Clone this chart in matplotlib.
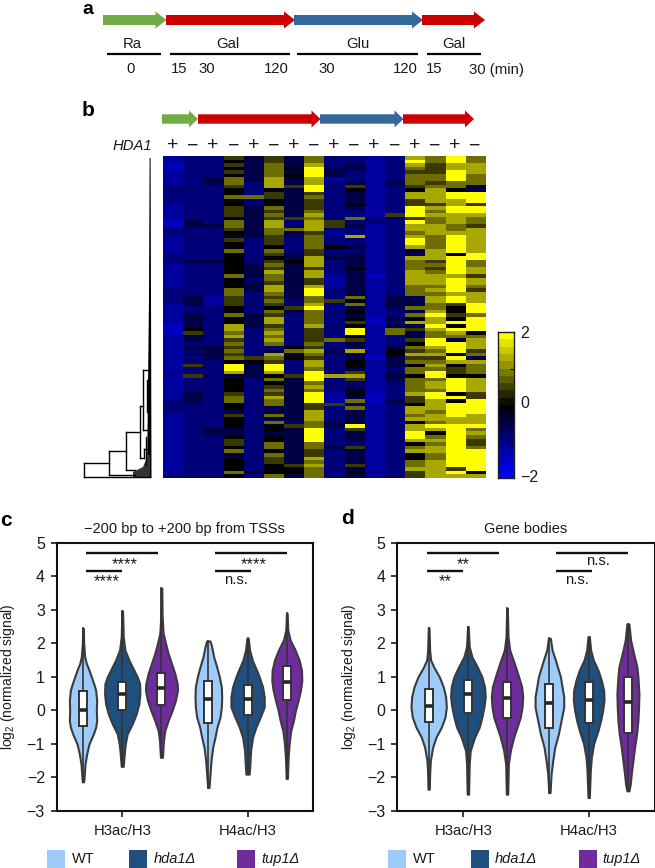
import numpy as np
import matplotlib
matplotlib.use('Agg')
import matplotlib.pyplot as plt
from matplotlib.colors import LinearSegmentedColormap
from matplotlib.patches import Polygon, Rectangle

plt.rcParams['font.family'] = ['Liberation Sans', 'DejaVu Sans']
plt.rcParams['mathtext.default'] = 'regular'
W, H = 655, 868

# ---------- heatmap levels (0 strongest blue, 4 black, 8 bright yellow), three vertical blocks
HEAT_TOP = [
 "110011112222211111002211111222", "222222222222222222332222222223", "222222332222222222232222222223",
 "545454665446445554665435446444", "333333322226223333333332222222", "556666777455446565776655546545",
 "333434335333333335226322222334", "667888778856555676777566665577", "222333122222222222552122242232",
 "223322235433343226232272232333", "111111111111111112211111111111", "222222232222222252222222222222",
 "787656665477558885877678873376", "665556656777757676677766667775", "887788866488778877766788888488",
 "667776663388858876657777777886"]
HEAT_MID = [
 "111111122221111110001111111111", "222222222333223333453323232252", "222222222111222222222223333222",
 "444644466555446447767565656488", "333323332222223333222222225433", "657665776565465775676762376588",
 "333333333322532222222224634222", "757755788667866667555565765776", "222111122252222222222622322222",
 "343333333646343454883533733443", "111011111111111001111111110111", "222222222333322323662223443332",
 "667777666333636473533546575646", "656777676776678778766887675676", "888788887885445484876388848745",
 "677577657778886888846777563766"]
HEAT_LOW = [
 "211111112222111111111111111112", "252222333222222222222222222222", "222222222222222233222222222222",
 "734444566443544433455463444464", "332222222222222222222222222232", "746456576633636443446646554446",
 "253333333333332533333333335443", "888676888557776688886655767666", "272222111522223322222322222222",
 "575233436263333853332533335343", "111111000111111111111111111111", "333222223222222222222222222222",
 "646666755477674778874674466755", "886776887776776874676776677777", "548888484888877888888888888587",
 "647777558888777867655688888847"]
LEVEL_VALUES = [-1.5, -1.25, -0.95, -0.55, 0.0, 0.45, 0.85, 1.3, 2.0]
HDA1_SIGNS = ['+', '\u2212'] * 8

# ---------- violins: (levels, density) pairs, box stats (q3, q1, median)
C_LEVELS = [
 [2.45,2.0,1.6,1.4,1.2,1.0,0.8,0.6,0.3,0,-0.3,-0.5,-0.7,-1,-1.3,-1.6,-1.9,-2.13],
 [2.97,2.2,1.8,1.5,1.2,1.0,0.8,0.5,0.2,-0.1,-0.4,-0.7,-1,-1.3,-1.67],
 [3.65,2.8,2.3,2.0,1.7,1.4,1.1,0.8,0.6,0.3,0,-0.3,-0.6,-0.9,-1.4],
 [2.07,1.9,1.6,1.3,1.0,0.7,0.4,0.1,-0.2,-0.5,-0.8,-1.1,-1.5,-1.9,-2.3],
 [2.15,1.8,1.5,1.2,1,0.7,0.4,0.1,-0.2,-0.5,-0.8,-1.2,-1.6,-1.9],
 [2.9,2.4,2.1,1.8,1.5,1.2,0.9,0.6,0.3,0,-0.3,-0.6,-1,-1.4,-2.03]]
C_DENS = [
 [1,2,5,10,18,25,32,38,41,40,41,38,31,18,11,6,4,2],
 [1,3,8,20,35,45,52,53,50,42,30,15,9,6,3],
 [1,2,5,12,20,30,40,47,48,42,32,20,10,6,3],
 [5,10,16,25,33,39,40,39,35,26,20,13,8,5,2],
 [2,6,14,27,35,45,50,50,38,25,15,9,7,5],
 [1,3,10,25,37,44,45,41,34,26,20,12,7,4,2]]
C_BOX = [(0.58,-0.48,0.02),(0.85,0,0.48),(1.12,0.15,0.67),(0.87,-0.38,0.34),(0.76,-0.15,0.35),(1.33,0.3,0.85)]
D_LEVELS = [
 [2.47,1.8,1.5,1.3,1.0,0.7,0.4,0.1,-0.2,-0.5,-0.8,-1.1,-1.5,-1.9,-2.35],
 [2.5,1.9,1.6,1.3,1,0.7,0.4,0.1,-0.2,-0.5,-0.8,-1.2,-1.6,-2.5],
 [3.05,2.2,1.8,1.4,1,0.7,0.4,0.1,-0.2,-0.5,-0.8,-1.2,-1.6,-2.5],
 [2.15,1.8,1.5,1.2,1,0.7,0.4,0.1,-0.3,-0.7,-1.1,-1.5,-1.9,-2.45],
 [2.2,1.8,1.5,1.2,0.9,0.6,0.3,0,-0.3,-0.6,-1,-1.4,-1.8,-2.6],
 [2.58,2.1,1.7,1.3,1.0,0.5,0.1,-0.3,-0.7,-1.1,-1.5,-1.9,-2.2,-2.4]]
D_DENS = [
 [1,3,6,15,32,44,51,53,49,38,22,12,5,3,2],
 [1,4,12,28,42,50,52,48,42,34,20,7,4,2],
 [1,3,8,22,35,44,47,45,40,30,20,10,4,2],
 [3,8,18,27,33,38,43,43,35,27,16,10,5,2],
 [2,6,14,28,38,45,46,42,36,28,15,8,5,2],
 [3,8,17,27,30,33,32,30,26,20,15,10,7,3]]
D_BOX = [(0.63,-0.35,0.13),(0.9,-0.07,0.5),(0.85,-0.22,0.38),(0.8,-0.53,0.23),(0.85,-0.38,0.3),(1.0,-0.68,0.25)]
GROUPS = ['H3ac/H3', 'H4ac/H3']
STRAINS = ['WT', 'hda1\u0394', 'tup1\u0394']
STRAIN_COLORS = ['#9DCBFA', '#1E4F7E', '#6F2C9C']

fig = plt.figure(figsize=(W/100, H/100), dpi=100)
ov = fig.add_axes([0, 0, 1, 1], zorder=0)
ov.set_xlim(0, W); ov.set_ylim(H, 0); ov.axis('off')

def add_axes_px(l, t, r, b, **kw):
    return fig.add_axes([l/W, 1-b/H, (r-l)/W, (b-t)/H], **kw)

GREEN, RED, BLUE = '#70AD47', '#CC0000', '#34679A'
def arrow(x0, x1, y, col, sh=5, hd=8.5, hl=11):
    ov.add_patch(Polygon([(x0,y-sh),(x1-hl,y-sh),(x1-hl,y-hd),(x1,y),(x1-hl,y+hd),(x1-hl,y+sh),(x0,y+sh)],
                         closed=True, fc=col, ec='none'))
FS = 10.7
def T(x, y, s, ha='center', size=FS, **kw):
    ov.text(x, y, s, ha=ha, va='center', fontsize=size, color=kw.pop('color', '#1a1a1a'), **kw)

# panel a
for x0, x1, c in [(103,166.5,GREEN),(166,295,RED),(294,423,BLUE),(422,485,RED)]:
    arrow(x0, x1, 20, c)
for x, s in [(132,'Ra'),(228,'Gal'),(358,'Glu'),(454,'Gal')]:
    T(x, 44, s)
for x0, x1 in [(107,161),(170,290),(297,418),(427,481)]:
    ov.plot([x0,x1],[54,54],color='k',lw=1.6,solid_capstyle='butt')
for x, s in [(131,'0'),(179,'15'),(207,'30'),(276,'120'),(327,'30'),(405,'120'),(434,'15')]:
    T(x, 69, s)
T(469, 70, '30 (min)', ha='left')
T(88, 9, 'a', size=14, fontweight='bold', color='k')
T(88, 111, 'b', size=15, fontweight='bold', color='k')
T(6, 520, 'c', size=15, fontweight='bold', color='k')
T(347, 518, 'd', size=15, fontweight='bold', color='k')

# panel b arrows and signs
for x0, x1, c in [(162,198,GREEN),(198,320.5,RED),(320,403.5,BLUE),(403,474,RED)]:
    arrow(x0, x1, 119, c, sh=4.7, hd=8.5, hl=9)
T(152, 146, 'HDA1', ha='right', style='italic')
L, R, TOP, BOT = 162.7, 485, 156, 478
cw = (R-L)/16
for i, s in enumerate(HDA1_SIGNS):
    T(L+cw*(i+.5), 146, s, size=14)

# heatmap
def fit(s, n=30):
    return s.ljust(n, s[-1])[:n]
levels = np.array([[int(c) for c in fit(a)+fit(b)+fit(d)]
                   for a, b, d in zip(HEAT_TOP, HEAT_MID, HEAT_LOW)]).T
values = np.array(LEVEL_VALUES)[levels]
colors = [(0,0,1),(0,0,0),(1,1,0)]
cmap = LinearSegmentedColormap.from_list('by', colors, N=256)
ax = add_axes_px(L, TOP, R, BOT)
ax.imshow(values, cmap=cmap, vmin=-2, vmax=2, aspect='auto', interpolation='nearest')
ax.axis('off')

# colour bar
cb = add_axes_px(497.5, 332, 513.5, 478)
steps = np.linspace(-2, 2, 21)
cb.pcolormesh([0,1], steps, (steps[:-1]+np.diff(steps)/2)[:,None],
              cmap=LinearSegmentedColormap.from_list('by20', colors, N=20), vmin=-2, vmax=2)
cb.set_xticks([])
cb.yaxis.tick_right()
cb.set_yticks([-2,-1,0,1,2])
cb.set_yticklabels([])
cb.tick_params(axis='y', direction='in', length=3, width=0.8, color='k')
for s in cb.spines.values():
    s.set_linewidth(1.0); s.set_color('#202020')
for y, s in [(334,'2'),(404,'0'),(477,'\u22122')]:
    T(520, y, s, ha='left', size=11.5)

# dendrogram
DEND = [((83.5,477),(83.5,463)),((83.5,463),(108.7,463)),((83.5,477),(150,477)),
        ((108.7,451),(108.7,475)),((108.7,451),(125.5,451)),((108.7,475),(135,475)),
        ((125.5,431.7),(125.5,470)),((125.5,431.7),(139.5,431.7)),((125.5,470),(135,470)),
        ((139.5,405.7),(139.5,458)),((139.5,405.7),(143,405.7)),((139.5,458),(144,458)),
        ((142.7,370),(142.7,430)),((142.7,370),(148,370)),((142.7,430),(147,430)),
        ((144,458),(144,449)),((144,449),(148,449)),((146,437),(146,465)),((147,380),(147,412))]
for (x0,y0),(x1,y1) in DEND:
    ov.plot([x0,x1],[y0,y1],color='k',lw=1.0,solid_capstyle='projecting')
ov.add_patch(Polygon([(149.6,158),(150.6,158),(151,300),(151.5,478),(147,478),(148.3,360),(149,300)],
                     closed=True, fc='k', ec='none'))
ov.add_patch(Polygon([(133,472),(143,467),(148,455),(150,455),(150,477),(133,477)],
                     closed=True, fc='#333333', ec='none'))

# violins
UNIT = 125.3
POS_C = [-0.313, 0, 0.313, 0.687, 1.0, 1.313]
POS_D = [-0.276, 0.037, 0.349, 0.687, 1.0, 1.313]
SC = 1/(3*UNIT)
def violin_panel(box_px, xlim, pos, lev, dens, box, title, ann):
    a = add_axes_px(*box_px)
    a.set_xlim(*xlim); a.set_ylim(-3, 5)
    for i in range(6):
        c = STRAIN_COLORS[i % 3]
        y = np.array(lev[i]); w = np.array(dens[i])*SC
        a.fill_betweenx(y, pos[i]-w, pos[i]+w, fc=c, ec='#3b3b3b', lw=1.5, zorder=2)
        a.plot([pos[i]]*2, [y[0], y[-1]], color='#333333', lw=1.2, zorder=3)
        q3, q1, m = box[i]
        a.add_patch(Rectangle((pos[i]-0.032, q1), 0.064, q3-q1, fc='white', ec='#333333', lw=1.4, zorder=4))
        a.plot([pos[i]-0.032, pos[i]+0.032], [m, m], color='#262626', lw=2.6, solid_capstyle='butt', zorder=5)
    for x0, x1, yy, tx, ty, s in ann:
        a.plot([x0,x1],[yy,yy],color='#111111',lw=1.7,solid_capstyle='butt')
        a.text(tx, ty, s, ha='center', va='center', fontsize=12 if '*' in s else FS, color='#1a1a1a')
    a.set_xticks([0,1]); a.set_xticklabels(GROUPS, fontsize=FS)
    a.set_yticks(range(-3,6))
    a.set_yticklabels([str(v).replace('-', '\u2212') for v in range(-3,6)], fontsize=11.5)
    a.tick_params(length=4.5, width=1.2, pad=4, colors='#1a1a1a')
    a.tick_params(axis='x', pad=5)
    for s in a.spines.values():
        s.set_linewidth(1.5); s.set_color('#111111')
    a.set_ylabel('log$_2$ (normalized signal)', fontsize=10, color='#1a1a1a')
    a.yaxis.set_label_coords(-0.153, 0.5)
    a.set_title(title, fontsize=10.5, color='#1a1a1a', pad=7)
    a.patch.set_alpha(0)
    return a

violin_panel((56.7,542.7,313,811), (-0.523,1.522), POS_C, C_LEVELS, C_DENS, C_BOX,
             '\u2212200 bp to +200 bp from TSSs',
             [(-0.29,0.2825,4.7,0.02,4.36,'****'),(-0.29,-0.005,4.17,-0.122,3.83,'****'),
              (0.74,1.312,4.7,1.05,4.36,'****'),(0.74,1.025,4.17,0.906,3.9,'n.s.')])
violin_panel((397.3,542.7,654.5,811), (-0.526,1.525), POS_D, D_LEVELS, D_DENS, D_BOX,
             'Gene bodies',
             [(-0.287,0.287,4.7,0,4.36,'**'),(-0.287,-0.005,4.17,-0.146,3.83,'**'),
              (0.742,1.316,4.7,1.074,4.45,'n.s.'),(0.742,1.029,4.17,0.909,3.9,'n.s.')])

# legends
for sw, tx in [((46.7,129,237),(72,154,261)), ((388,470.7,578.7),(413,495,602))]:
    for j in range(3):
        ov.add_patch(Rectangle((sw[j],850), 18, 18, fc=STRAIN_COLORS[j], ec='none'))
        T(tx[j], 859, STRAINS[j], ha='left', size=10.5, style='normal' if j == 0 else 'italic')

fig.savefig('out.png', dpi=100)
